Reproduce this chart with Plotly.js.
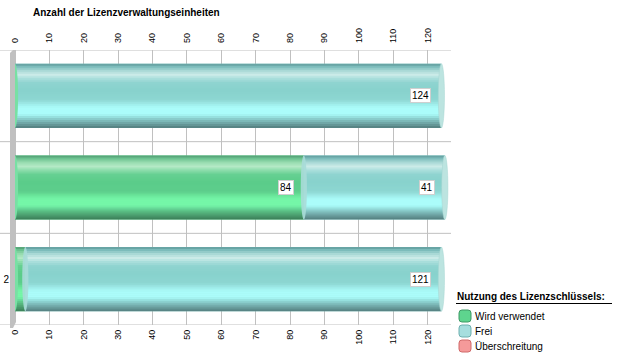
<!DOCTYPE html>
<html>
<head>
<meta charset="utf-8">
<script src="https://cdn.plot.ly/plotly-3.0.1.min.js"></script>
<style>html,body{margin:0;padding:0;background:#fff;}#chart{width:622px;height:361px;}</style>
</head>
<body>
<div id="chart"></div>
<script>
// ---- data ----
const categories = ["Einheit 1", "Einheit 2", "Einheit 3"];
const categoryLabels = ["", "", "2"];
const seriesNames = ["Wird verwendet", "Frei", "Überschreitung"];
const usedValues = [0, 84, 3];
const freeValues = [124, 41, 121];
const overValues = [0, 0, 0];
const xTickValues = [0, 10, 20, 30, 40, 50, 60, 70, 80, 90, 100, 110, 120];
const chartTitle = "Anzahl der Lizenzverwaltungseinheiten";
const legendTitle = "Nutzung des Lizenzschlüssels:";

// ---- styling ----
const L = 15, R = 451, T = 50, B = 325;
const W = R - L, H = B - T;
const XMAX = 126.8;
const BARW = 0.7;
const px = v => (v - L) / W;
const py = v => (B - v) / H;
const FONT = "Liberation Sans, Arial, sans-serif";

// gradient colour stops [px from top of a 64px bar, colour]
const usedStops = [
  [0, "#4f9a70"], [3, "#6cc290"], [7, "#98dcb0"], [11, "#b4e9c6"], [15, "#8adcaa"],
  [19, "#66d092"], [26, "#5bcc8a"], [36, "#5ccd8b"], [40, "#6ae69a"], [44, "#75f6a8"],
  [50, "#75f6a8"], [53, "#66d898"], [56, "#58bc82"], [60, "#4a9c6e"], [64, "#3a7c56"]
];
const freeStops = [
  [0, "#5e9a9a"], [3, "#7cbcbb"], [7, "#a9d9d6"], [11, "#cbebe8"], [15, "#a8dedb"],
  [19, "#8fd4d0"], [26, "#88d2cd"], [36, "#8cd6d1"], [40, "#9eeae7"], [44, "#abfcfa"],
  [50, "#abfcfa"], [53, "#96e0de"], [56, "#82c2c1"], [60, "#6a9e9e"], [64, "#527c7c"]
];
const legendColors = ["#5ed48e", "#a6dede", "#f59a9a"];
const legendEdge = ["#3f9a66", "#6fb0b0", "#d06a6a"];

function hex(c) { return [1, 3, 5].map(i => parseInt(c.substr(i, 2), 16)); }
function colorAt(stops, p) {
  for (let k = 1; k < stops.length; k++) {
    if (p <= stops[k][0]) {
      const a = stops[k - 1], b = stops[k];
      const t = (p - a[0]) / (b[0] - a[0]);
      const ca = hex(a[1]), cb = hex(b[1]);
      const m = ca.map((v, j) => Math.round(v + (cb[j] - v) * t));
      return `rgb(${m[0]},${m[1]},${m[2]})`;
    }
  }
  return stops[stops.length - 1][1];
}

const traces = [];
function addSeries(values, bases, stops, name) {
  traces.push({
    type: "bar", orientation: "h", name: name, y: categories, x: values, base: bases,
    width: BARW, marker: {color: colorAt(stops, 32), line: {width: 0}}, showlegend: false, hoverinfo: "skip"
  });
  const STEP = 2;
  for (let p = 0; p < 64; p += STEP) {
    const h = Math.min(STEP + 0.6, 64 - p);
    traces.push({
      type: "bar", orientation: "h", y: categories, x: values, base: bases,
      width: h / 64 * BARW, offset: -BARW / 2 + p / 64 * BARW,
      marker: {color: colorAt(stops, p + STEP / 2), line: {width: 0}},
      showlegend: false, hoverinfo: "skip"
    });
  }
}
const zeros = categories.map(() => 0);
addSeries(usedValues, zeros, usedStops, seriesNames[0]);
addSeries(freeValues, usedValues, freeStops, seriesNames[1]);
const overBase = usedValues.map((u, i) => u + freeValues[i]);
traces.push({
  type: "bar", orientation: "h", name: seriesNames[2], y: categories, x: overValues, base: overBase,
  xaxis: "x2", width: BARW, marker: {color: legendColors[2], line: {width: 0}},
  showlegend: false, hoverinfo: "skip"
});

const shapes = [];
// category separators
[-0.5, 0.5, 1.5, 2.5].forEach(k => shapes.push({
  type: "line", layer: "below", xref: "paper", yref: "y", x0: px(0), x1: 1, y0: k, y1: k,
  line: {color: "#c0c0c0", width: 1}
}));
// left wall
shapes.push({
  type: "path", layer: "below", xref: "paper", yref: "paper",
  path: `M ${px(13)} ${py(50)} L ${px(16)} ${py(50)} L ${px(16)} ${py(322)} L ${px(13)} ${py(328)} L ${px(10)} ${py(328)} L ${px(10)} ${py(53)} Z`,
  fillcolor: "#c0c0c0", line: {width: 0}
});
const capHalf = 0.9;
categories.forEach((c, i) => {
  shapes.push({type: "circle", layer: "above", xref: "x", yref: "y",
    x0: -capHalf, x1: capHalf, y0: i - BARW / 2, y1: i + BARW / 2,
    fillcolor: "#78e0a4", line: {width: 0}});
  if (usedValues[i] > 0) {
    shapes.push({type: "circle", layer: "above", xref: "x", yref: "y",
      x0: usedValues[i] - capHalf, x1: usedValues[i] + capHalf, y0: i - BARW / 2, y1: i + BARW / 2,
      fillcolor: "#a9dcd8", opacity: 0.9, line: {width: 0}});
  }
  const end = usedValues[i] + freeValues[i];
  shapes.push({type: "circle", layer: "above", xref: "x", yref: "y",
    x0: end - capHalf, x1: end + capHalf, y0: i - BARW / 2, y1: i + BARW / 2,
    fillcolor: "#bce4e0", line: {color: "#a4d4d0", width: 0.5}});
});
// legend underline
shapes.push({type: "line", xref: "paper", yref: "paper", x0: px(456), x1: px(612), y0: py(303.5), y1: py(303.5),
  line: {color: "#000", width: 1}});
// legend icons
seriesNames.forEach((n, k) => {
  const cy = 316 + k * 15, x0 = 459, x1 = 471, y0 = cy - 6, y1 = cy + 6, r = 3;
  shapes.push({type: "path", xref: "paper", yref: "paper",
    path: `M ${px(x0 + r)} ${py(y0)} L ${px(x1 - r)} ${py(y0)} Q ${px(x1)} ${py(y0)} ${px(x1)} ${py(y0 + r)} ` +
          `L ${px(x1)} ${py(y1 - r)} Q ${px(x1)} ${py(y1)} ${px(x1 - r)} ${py(y1)} L ${px(x0 + r)} ${py(y1)} ` +
          `Q ${px(x0)} ${py(y1)} ${px(x0)} ${py(y1 - r)} L ${px(x0)} ${py(y0 + r)} Q ${px(x0)} ${py(y0)} ${px(x0 + r)} ${py(y0)} Z`,
    fillcolor: legendColors[k], line: {color: legendEdge[k], width: 1}});
});

const annotations = [];
function addLabels(values, bases) {
  values.forEach((v, i) => {
    if (v < 10) return;
    annotations.push({
      xref: "x", yref: "y", x: bases[i] + v, y: i, xanchor: "right", yanchor: "middle",
      xshift: -10, text: String(v), showarrow: false, bgcolor: "#ffffff",
      bordercolor: "#cfcfcf", borderwidth: 1, borderpad: 1,
      font: {family: FONT, size: 10, color: "#000"}
    });
  });
}
addLabels(usedValues, zeros);
addLabels(freeValues, usedValues);
annotations.push({
  xref: "paper", yref: "paper", x: px(455), y: py(296), xanchor: "left", yanchor: "middle",
  text: "<b>" + legendTitle + "</b>", showarrow: false, font: {family: FONT, size: 10, color: "#000"}
});
seriesNames.forEach((n, k) => annotations.push({
  xref: "paper", yref: "paper", x: px(473), y: py(316 + k * 15), xanchor: "left", yanchor: "middle",
  text: n, showarrow: false, font: {family: FONT, size: 10, color: "#000"}
}));

const tickFont = {family: FONT, size: 9, color: "#000"};
const layout = {
  width: 622, height: 361,
  margin: {l: L, r: 622 - R, t: T, b: 361 - B, pad: 0},
  paper_bgcolor: "#ffffff", plot_bgcolor: "#ffffff",
  barmode: "overlay", showlegend: false,
  title: {text: "<b>" + chartTitle + "</b>", x: 33 / 622, xanchor: "left", xref: "container",
    y: 1 - 12 / 361, yanchor: "middle", yref: "container", font: {family: FONT, size: 10, color: "#000"}},
  xaxis: {range: [0, XMAX], tickvals: xTickValues, tickangle: -90, tickfont: tickFont,
    showgrid: true, gridcolor: "#c0c0c0", gridwidth: 1, zeroline: false, showline: false,
    ticks: "", ticklabelstandoff: 2, fixedrange: true},
  xaxis2: {range: [0, XMAX], overlaying: "x", side: "top", anchor: "y", tickvals: xTickValues,
    tickangle: -90, tickfont: tickFont, showgrid: false, zeroline: false, showline: false,
    ticks: "", ticklabelstandoff: 6, fixedrange: true},
  yaxis: {type: "category", categoryarray: categories, range: [2.5, -0.5],
    tickvals: categories, ticktext: categoryLabels, showgrid: false, zeroline: false,
    showline: false, ticks: "", tickfont: {family: FONT, size: 10, color: "#000"},
    ticklabelstandoff: 5, fixedrange: true},
  shapes: shapes,
  annotations: annotations
};
Plotly.newPlot("chart", traces, layout, {displayModeBar: false, staticPlot: true});
</script>
</body>
</html>
